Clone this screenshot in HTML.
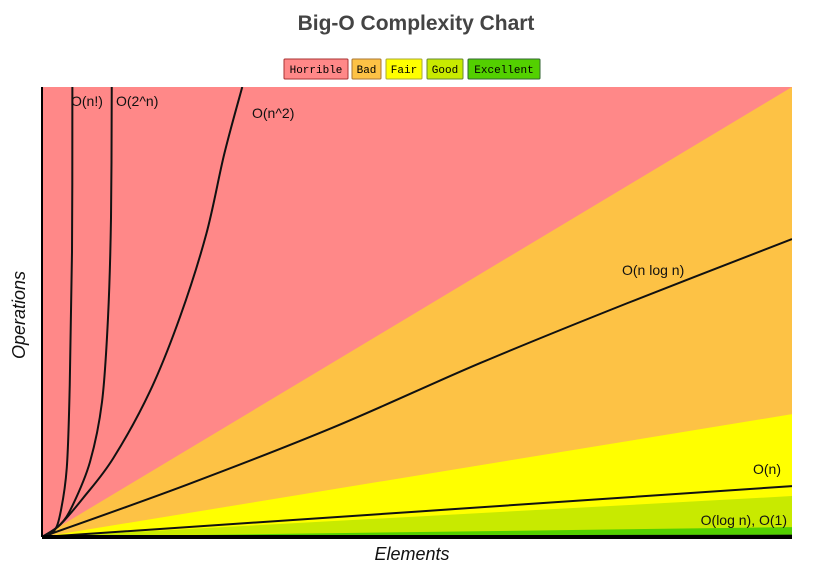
<!DOCTYPE html>
<html><head><meta charset="utf-8"><style>
body{margin:0;background:#fff;width:833px;height:571px;overflow:hidden;font-family:"Liberation Sans",sans-serif}
svg{display:block}
</style></head><body>
<svg id="chart" width="833" height="571">
<text x="416" y="30" text-anchor="middle" font-size="21" font-weight="bold" fill="#444">Big-O Complexity Chart</text>
<g font-family="Liberation Mono, monospace" font-size="11">
<g><rect x="284" y="59" width="64" height="20" fill="#ff8888" stroke="#a33" rx="1"/><text x="316" y="73" text-anchor="middle">Horrible</text></g>
<g><rect x="352" y="59" width="29" height="20" fill="#fdc245" stroke="#a73" rx="1"/><text x="366.5" y="73" text-anchor="middle">Bad</text></g>
<g><rect x="386" y="59" width="36" height="20" fill="#ffff00" stroke="#aa3" rx="1"/><text x="404" y="73" text-anchor="middle">Fair</text></g>
<g><rect x="427" y="59" width="36" height="20" fill="#c8ea00" stroke="#683" rx="1"/><text x="445" y="73" text-anchor="middle">Good</text></g>
<g><rect x="468" y="59" width="72" height="20" fill="#53d000" stroke="#363" rx="1"/><text x="504" y="73" text-anchor="middle">Excellent</text></g>
</g>
<g id="plot"></g>
<text x="412" y="560" text-anchor="middle" font-size="18" font-style="italic" fill="#111">Elements</text>
<text transform="translate(25,315) rotate(-90)" text-anchor="middle" font-size="18" font-style="italic" fill="#111">Operations</text>
</svg>
<script>
// region tops at the right edge (x=100), in data units (0..100)
const regionNames = ["horrible","bad","fair","good","excellent"];
const regionTops = [100, 100, 27.3, 9.1, 2.2];
const regionColors = ["#ff8888","#fdc245","#ffff00","#c8ea00","#53d000"];
// curve samples
const factX = [0, 1.5, 2.4, 3.3, 3.7, 4.0, 4.05];
const factY = [0, 1.1, 4.9, 15.3, 33.8, 63.3, 100];
const expX = [0, 2.4, 4.1, 6.4, 8.0, 8.8, 9.2, 9.3];
const expY = [0, 2.7, 7.1, 16.7, 30, 48.7, 70.9, 100];
const sqX = [0, 2.4, 5.5, 9.5, 14.4, 18.4, 21.9, 24.3, 26.7];
const sqY = [0, 2.7, 8.7, 17.5, 32.4, 48.9, 67.3, 85.1, 100];
const nlogX = [0, 19.3, 38.9, 58.5, 78.1, 100];
const nlogY = [0, 11.6, 24.4, 38.7, 52, 66.2];
const linX = [0, 100];
const linY = [0, 11.3];
const logX = [0, 100];
const logY = [0, 0.3];
const labels = ["O(n!)","O(2^n)","O(n^2)","O(n log n)","O(n)","O(log n), O(1)"];

const X0=42,X1=792,Y0=537,Y1=87;
const sx=v=>X0+(X1-X0)*v/100;
const sy=v=>Y0-(Y0-Y1)*v/100;
const NS="http://www.w3.org/2000/svg";
const g=document.getElementById('plot');
function mk(t,a){const e=document.createElementNS(NS,t);for(const k in a)e.setAttribute(k,a[k]);g.appendChild(e);return e;}

let bg=mk('rect',{x:X0,y:Y1,width:X1-X0,height:Y0-Y1,fill:regionColors[0]});


for(let i=1;i<regionNames.length;i++){
  const p=mk('polygon',{points:`${sx(0)},${sy(0)} ${sx(100)},${sy(regionTops[i])} ${sx(100)},${sy(0)}`,fill:regionColors[i]});
  
  
}
const series=[[factX,factY,'curve-factorial'],[expX,expY,'curve-exponential'],[sqX,sqY,'curve-quadratic'],[nlogX,nlogY,'curve-n-log-n'],[linX,linY,'curve-linear'],[logX,logY,'curve-log-constant']];
const clip=mk('clipPath',{id:'cp'});
const cr=document.createElementNS(NS,'rect');
cr.setAttribute('x',X0);cr.setAttribute('y',Y1);cr.setAttribute('width',X1-X0);cr.setAttribute('height',Y0-Y1);
clip.appendChild(cr);
series.forEach(([xs,ys,name])=>{
  let pts=xs.map((x,i)=>[sx(x),sy(ys[i])]);
  let d='M'+pts[0].join(',');
  for(let i=1;i<pts.length;i++){
    const p0=pts[Math.max(0,i-2)],p1=pts[i-1],p2=pts[i],p3=pts[Math.min(pts.length-1,i+1)];
    const c1=[p1[0]+(p2[0]-p0[0])/6,p1[1]+(p2[1]-p0[1])/6];
    const c2=[p2[0]-(p3[0]-p1[0])/6,p2[1]-(p3[1]-p1[1])/6];
    d+=` C${c1.join(',')} ${c2.join(',')} ${p2.join(',')}`;
  }
  const path=mk('path',{d:d,fill:'none',stroke:'#111','stroke-width':2,'clip-path':'url(#cp)'});
  
  
});
let ya=mk('line',{x1:X0,y1:Y1,x2:X0,y2:Y0,stroke:'#000','stroke-width':2});


let xa=mk('line',{x1:X0,y1:Y0,x2:X1,y2:Y0,stroke:'#000','stroke-width':4});


const lp=[[71,106,'start'],[116,106,'start'],[252,118,'start'],[622,275,'start'],[781,474,'end'],[787,525,'end']];
labels.forEach((t,i)=>{
  const e=mk('text',{x:lp[i][0],y:lp[i][1],'text-anchor':lp[i][2],'font-size':14,fill:'#111'});
  e.textContent=t;
  
  
});
</script>
</body></html>
